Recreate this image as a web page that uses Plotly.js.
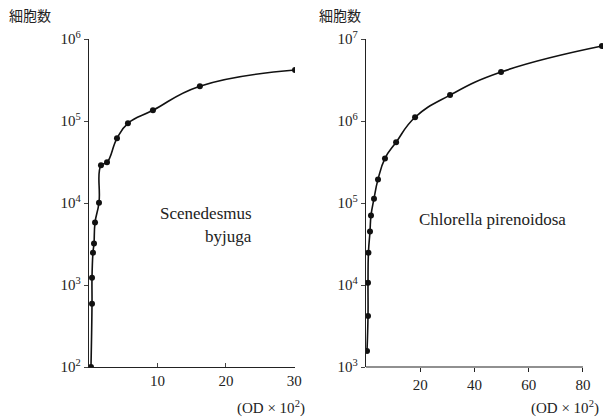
<!DOCTYPE html>
<html><head><meta charset="utf-8">
<script src="https://cdn.plot.ly/plotly-3.0.1.min.js"></script>
<style>html,body{margin:0;padding:0;background:#fff;}#chart{width:603px;height:420px;}</style>
</head><body><div id="chart"></div>
<script>
// Scenedesmus byjuga
const sceneOD = [0.29, 0.44, 0.44, 0.58, 0.73, 0.88, 1.46, 1.75, 2.63, 4.09, 5.69, 9.34, 16.2, 30.1];
const sceneCells = [100, 590, 1230, 2480, 3200, 5770, 10100, 28800, 31300, 61500, 93800, 135000, 266000, 418000];
// Chlorella pirenoidosa
const chlorOD = [0.37, 0.74, 0.74, 0.9, 1.47, 1.84, 2.95, 4.42, 7.0, 11.1, 18.1, 31.0, 49.8, 87.0];
const chlorCells = [1570, 4200, 10650, 24800, 44800, 70300, 113000, 194000, 350000, 550000, 1110000, 2070000, 3950000, 8200000];

const leftYVals = [100, 1000, 10000, 100000, 1000000];
const leftYText = ['10<sup>2</sup>', '10<sup>3</sup>', '10<sup>4</sup>', '10<sup>5</sup>', '10<sup>6</sup>'];
const rightYVals = [1000, 10000, 100000, 1000000, 10000000];
const rightYText = ['10<sup>3</sup>', '10<sup>4</sup>', '10<sup>5</sup>', '10<sup>6</sup>', '10<sup>7</sup>'];
const leftXVals = [10, 20, 30];
const rightXVals = [20, 40, 60, 80];

const W = 603, H = 420;
const px = x => x / W, py = y => 1 - y / H;
const serif = 'Liberation Serif, Times New Roman, serif';
const cjk = 'Noto Sans CJK JP, Noto Sans CJK SC, sans-serif';

const lineStyle = {color: '#111', width: 1.6, shape: 'spline', smoothing: 1.3};
const markerStyle = {color: '#111', size: 6};

const traces = [
  {x: sceneOD, y: sceneCells, xaxis: 'x', yaxis: 'y', mode: 'lines+markers', line: lineStyle, marker: markerStyle, hoverinfo: 'none'},
  {x: chlorOD, y: chlorCells, xaxis: 'x2', yaxis: 'y2', mode: 'lines+markers', line: lineStyle, marker: markerStyle, hoverinfo: 'none'}
];

const yDom = [py(367), py(39)];
const axFont = {family: serif, size: 15, color: '#222'};

const layout = {
  width: W, height: H,
  margin: {l: 0, r: 0, t: 0, b: 0},
  paper_bgcolor: '#fff', plot_bgcolor: '#fff',
  showlegend: false,
  xaxis: {domain: [px(89), px(295)], range: [0, 30.1], tickvals: leftXVals, ticks: 'inside', ticklen: 4,
          showline: true, linecolor: '#222', linewidth: 1.2, showgrid: false, zeroline: false,
          tickfont: axFont, anchor: 'y', fixedrange: true},
  yaxis: {domain: yDom, type: 'log', range: [2, 6], tickvals: leftYVals, ticktext: leftYText, ticks: 'outside', ticklen: 4,
          showline: true, linecolor: '#222', linewidth: 1.2, showgrid: false, zeroline: false,
          tickfont: axFont, anchor: 'x'},
  xaxis2: {domain: [px(366), px(603)], range: [0, 87.4], tickvals: rightXVals, ticks: 'outside', ticklen: 4,
          showline: false, showgrid: false, zeroline: false, tickcolor: '#222',
          tickfont: axFont, anchor: 'y2'},
  yaxis2: {domain: yDom, type: 'log', range: [3, 7], tickvals: rightYVals, ticktext: rightYText, ticks: 'outside', ticklen: 4,
          showline: true, linecolor: '#222', linewidth: 1.2, showgrid: false, zeroline: false,
          tickfont: axFont, anchor: 'x2'},
  shapes: [
    {type: 'line', xref: 'x2', yref: 'paper', x0: 0, x1: 80, y0: py(367), y1: py(367), line: {color: '#222', width: 1.2}}
  ],
  annotations: [
    {text: '細胞数', xref: 'paper', yref: 'paper', x: px(7), y: py(15), xanchor: 'left', yanchor: 'middle', showarrow: false, font: {family: cjk, size: 14, color: '#222'}},
    {text: '細胞数', xref: 'paper', yref: 'paper', x: px(317), y: py(15), xanchor: 'left', yanchor: 'middle', showarrow: false, font: {family: cjk, size: 14, color: '#222'}},
    {text: '(OD × 10<sup>2</sup>)', xref: 'paper', yref: 'paper', x: px(307), y: py(407), xanchor: 'right', yanchor: 'middle', showarrow: false, font: {family: serif, size: 15, color: '#222'}},
    {text: '(OD × 10<sup>2</sup>)', xref: 'paper', yref: 'paper', x: px(601), y: py(407), xanchor: 'right', yanchor: 'middle', showarrow: false, font: {family: serif, size: 15, color: '#222'}},
    {text: 'Scenedesmus', xref: 'paper', yref: 'paper', x: px(254), y: py(213), xanchor: 'right', yanchor: 'middle', showarrow: false, font: {family: serif, size: 17, color: '#222'}},
    {text: 'byjuga', xref: 'paper', yref: 'paper', x: px(254), y: py(236), xanchor: 'right', yanchor: 'middle', showarrow: false, font: {family: serif, size: 17, color: '#222'}},
    {text: 'Chlorella pirenoidosa', xref: 'paper', yref: 'paper', x: px(417), y: py(219), xanchor: 'left', yanchor: 'middle', showarrow: false, font: {family: serif, size: 17, color: '#222'}}
  ]
};

Plotly.newPlot('chart', traces, layout, {staticPlot: true, displayModeBar: false});
</script></body></html>
